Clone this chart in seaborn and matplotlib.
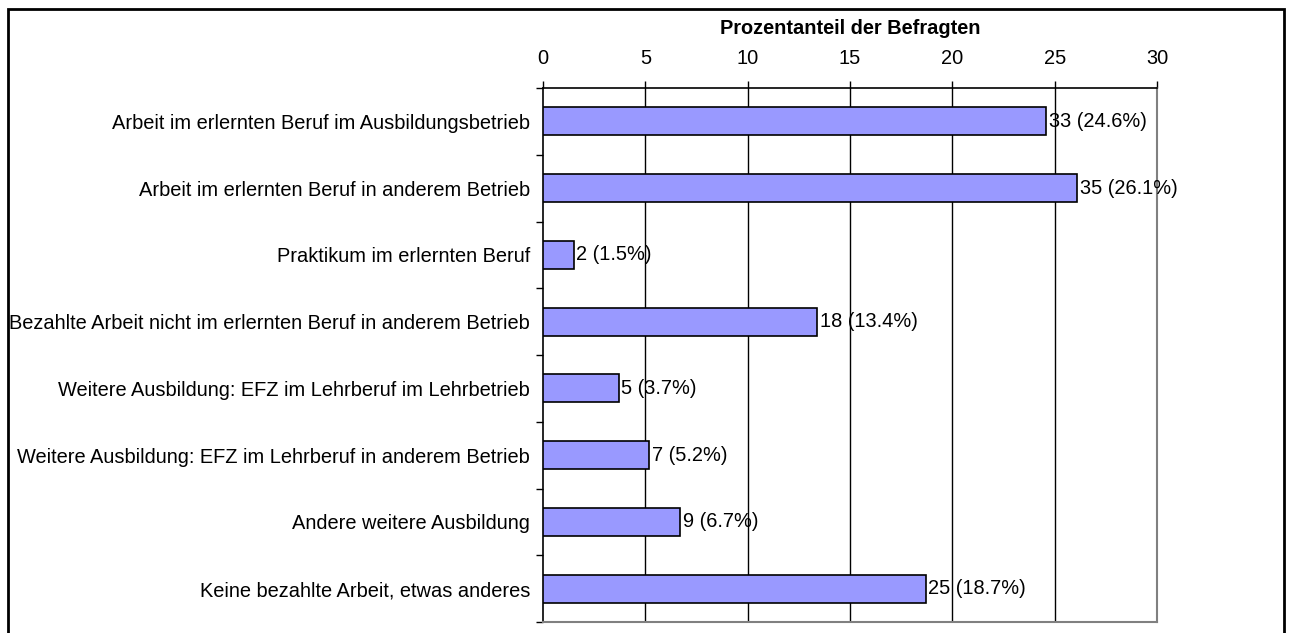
import matplotlib
matplotlib.use('Agg')
import matplotlib.pyplot as plt
import matplotlib.patches as mpatches
import seaborn as sns
import pandas as pd

categories = [
    'Arbeit im erlernten Beruf im Ausbildungsbetrieb',
    'Arbeit im erlernten Beruf in anderem Betrieb',
    'Praktikum im erlernten Beruf',
    'Bezahlte Arbeit nicht im erlernten Beruf in anderem Betrieb',
    'Weitere Ausbildung: EFZ im Lehrberuf im Lehrbetrieb',
    'Weitere Ausbildung: EFZ im Lehrberuf in anderem Betrieb',
    'Andere weitere Ausbildung',
    'Keine bezahlte Arbeit, etwas anderes',
]
counts = [33, 35, 2, 18, 5, 7, 9, 25]
percents = [24.6, 26.1, 1.5, 13.4, 3.7, 5.2, 6.7, 18.7]
x_ticks = [0, 5, 10, 15, 20, 25, 30]

df = pd.DataFrame({'Kategorie': categories, 'Prozent': percents, 'Anzahl': counts})

sns.set_style('white')
plt.rcParams['font.family'] = ['Liberation Sans', 'DejaVu Sans']
plt.rcParams['text.color'] = 'black'
plt.rcParams['xtick.color'] = 'black'
plt.rcParams['ytick.color'] = 'black'
plt.rcParams['axes.labelcolor'] = 'black'
fs = 14.4

fig = plt.figure(figsize=(12.9, 6.33), dpi=100)
ax = fig.add_axes([543 / 1290, 1 - 622 / 633, 614 / 1290, 534 / 633])

sns.barplot(data=df, y='Kategorie', x='Prozent', orient='h', color='#9999FF',
            edgecolor='black', linewidth=1.2, width=0.42, saturation=1, ax=ax, zorder=3)

ax.set_xlim(0, 30)
ax.set_ylim(len(categories) - 0.5, -0.5)
ax.xaxis.tick_top()
ax.xaxis.set_label_position('top')
ax.set_xticks(x_ticks)
ax.set_xticklabels([str(t) for t in x_ticks], fontsize=fs)
ax.set_xlabel('Prozentanteil der Befragten', fontsize=fs, fontweight='bold', labelpad=11)
ax.set_ylabel('')

# category labels without ticks at centre, ticks at boundaries
ax.set_yticks(range(len(categories)))
ax.set_yticklabels(categories, fontsize=fs)
ax.tick_params(axis='y', which='major', left=False, length=0, pad=9.4)
ax.set_yticks([i + 0.5 for i in range(-1, len(categories))], minor=True)
ax.tick_params(axis='y', which='minor', left=True, length=5, width=1, direction='out')
ax.tick_params(axis='x', top=True, bottom=False, length=5, width=1, direction='out', pad=9.5)

for t in x_ticks[1:]:
    ax.axvline(t, color='black', linewidth=1, zorder=1)

for side in ['top', 'left']:
    ax.spines[side].set_color('black')
    ax.spines[side].set_linewidth(1.2)
for side in ['bottom', 'right']:
    ax.spines[side].set_color('#808080')
    ax.spines[side].set_linewidth(1.5)

for i, (c, p) in enumerate(zip(counts, percents)):
    ax.text(p + 0.12, i, f'{c} ({p}%)', va='center', ha='left', fontsize=fs, zorder=4)

# outer frame
fig.patches.append(mpatches.Rectangle((8 / 1290, -0.1), 1276 / 1290, 1.1 - 9 / 633,
                                      transform=fig.transFigure, fill=False,
                                      edgecolor='black', linewidth=2))

fig.savefig('out.png', dpi=100)
